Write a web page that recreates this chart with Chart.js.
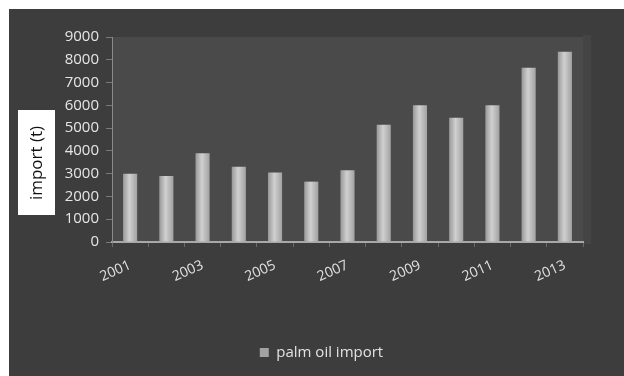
<!DOCTYPE html>
<html>
<head>
<meta charset="utf-8">
<script src="https://cdn.jsdelivr.net/npm/chart.js@4/dist/chart.umd.min.js"></script>
<style>
  html, body { margin: 0; padding: 0; background: #ffffff; }
  #wrap { position: relative; width: 624px; height: 376px; }
</style>
</head>
<body>
<div id="wrap"><canvas id="c"></canvas></div>
<script>
// Palm oil imports per year, tonnes
const years = ['2001','2002','2003','2004','2005','2006','2007','2008','2009','2010','2011','2012','2013'];
const palmOilImport = [3000, 2900, 3900, 3300, 3050, 2650, 3150, 5150, 6000, 5450, 6000, 7650, 8350];
const yTicks = [0, 1000, 2000, 3000, 4000, 5000, 6000, 7000, 8000, 9000];
const seriesName = 'palm oil import';
const yTitle = 'import (t)';

const FONT = '"Open Sans", Lato, "DejaVu Sans", sans-serif';

// dark frame, lighter plot area
const frameBg = {
  id: 'frameBg',
  beforeDraw(chart) {
    const { ctx, width, height, chartArea: a } = chart;
    ctx.save();
    ctx.fillStyle = '#ffffff';
    ctx.fillRect(0, 0, width, height);
    ctx.fillStyle = '#3d3d3d';
    ctx.fillRect(9, 9, width - 9, height - 9);
    ctx.fillStyle = '#444444';
    ctx.fillRect(a.right, a.top - 2, 8, a.bottom - a.top + 4);
    ctx.fillStyle = '#4a4a4a';
    ctx.fillRect(a.left, a.top, a.right - a.left, a.bottom - a.top);
    ctx.restore();
  }
};

// y-axis title sits in a white box left of the tick labels
const yTitleBox = {
  id: 'yTitleBox',
  afterDraw(chart) {
    const { ctx } = chart;
    ctx.save();
    ctx.fillStyle = '#ffffff';
    ctx.fillRect(18, 110, 37, 105);
    ctx.translate(37, 163);
    ctx.rotate(-Math.PI / 2);
    ctx.fillStyle = '#111111';
    ctx.font = '17px ' + FONT;
    ctx.textAlign = 'center';
    ctx.textBaseline = 'middle';
    ctx.fillText(yTitle, 0, 0);
    ctx.restore();
  }
};

// cylinder-like shading across each bar
function barFill(context) {
  const chart = context.chart;
  if (context.dataIndex === undefined || !chart.chartArea) return '#bdbdbd';
  const xs = chart.scales.x;
  const cx = xs.getPixelForValue(context.dataIndex);
  const half = 7;
  const g = chart.ctx.createLinearGradient(cx - half, 0, cx + half, 0);
  g.addColorStop(0, '#999999');
  g.addColorStop(0.45, '#d0d0d0');
  g.addColorStop(1, '#a2a2a2');
  return g;
}

new Chart(document.getElementById('c'), {
  type: 'bar',
  data: {
    labels: years,
    datasets: [{
      label: seriesName,
      data: palmOilImport,
      backgroundColor: barFill,
      borderWidth: 0,
      barPercentage: 0.39,
      categoryPercentage: 1
    }]
  },
  options: {
    responsive: true,
    maintainAspectRatio: false,
    animation: false,
    devicePixelRatio: 1,
    layout: { padding: { left: 60, right: 41, top: 37, bottom: 6 } },
    plugins: {
      tooltip: { enabled: false },
      legend: {
        position: 'bottom',
        labels: {
          color: '#e2e2e2',
          font: { family: FONT, size: 15 },
          boxWidth: 9,
          boxHeight: 9,
          padding: 10
        }
      }
    },
    scales: {
      x: {
        grid: {
          display: true,
          drawOnChartArea: false,
          drawTicks: true,
          tickLength: 5,
          color: '#6a6a6a',
          offset: true
        },
        border: { display: true, color: '#a8a8a8', width: 2 },
        ticks: {
          autoSkip: false,
          minRotation: 24,
          maxRotation: 24,
          padding: 10,
          color: '#e2e2e2',
          font: { family: FONT, size: 14 },
          callback(value, index) { return index % 2 === 0 ? years[index] : ''; }
        },
        afterFit(scale) { scale.height = 93; }
      },
      y: {
        min: 0,
        max: 9000,
        afterBuildTicks(scale) { scale.ticks = yTicks.map(v => ({ value: v })); },
        grid: {
          display: true,
          drawOnChartArea: false,
          drawTicks: true,
          tickLength: 6,
          color: '#7a7a7a'
        },
        border: { display: true, color: '#8a8a8a', width: 1 },
        ticks: {
          padding: 7,
          color: '#e6e6e6',
          font: { family: FONT, size: 15 },
          callback(value) { return String(value); }
        },
        afterFit(scale) { scale.width = 52; }
      }
    }
  },
  plugins: [frameBg, yTitleBox]
});
</script>
</body>
</html>
